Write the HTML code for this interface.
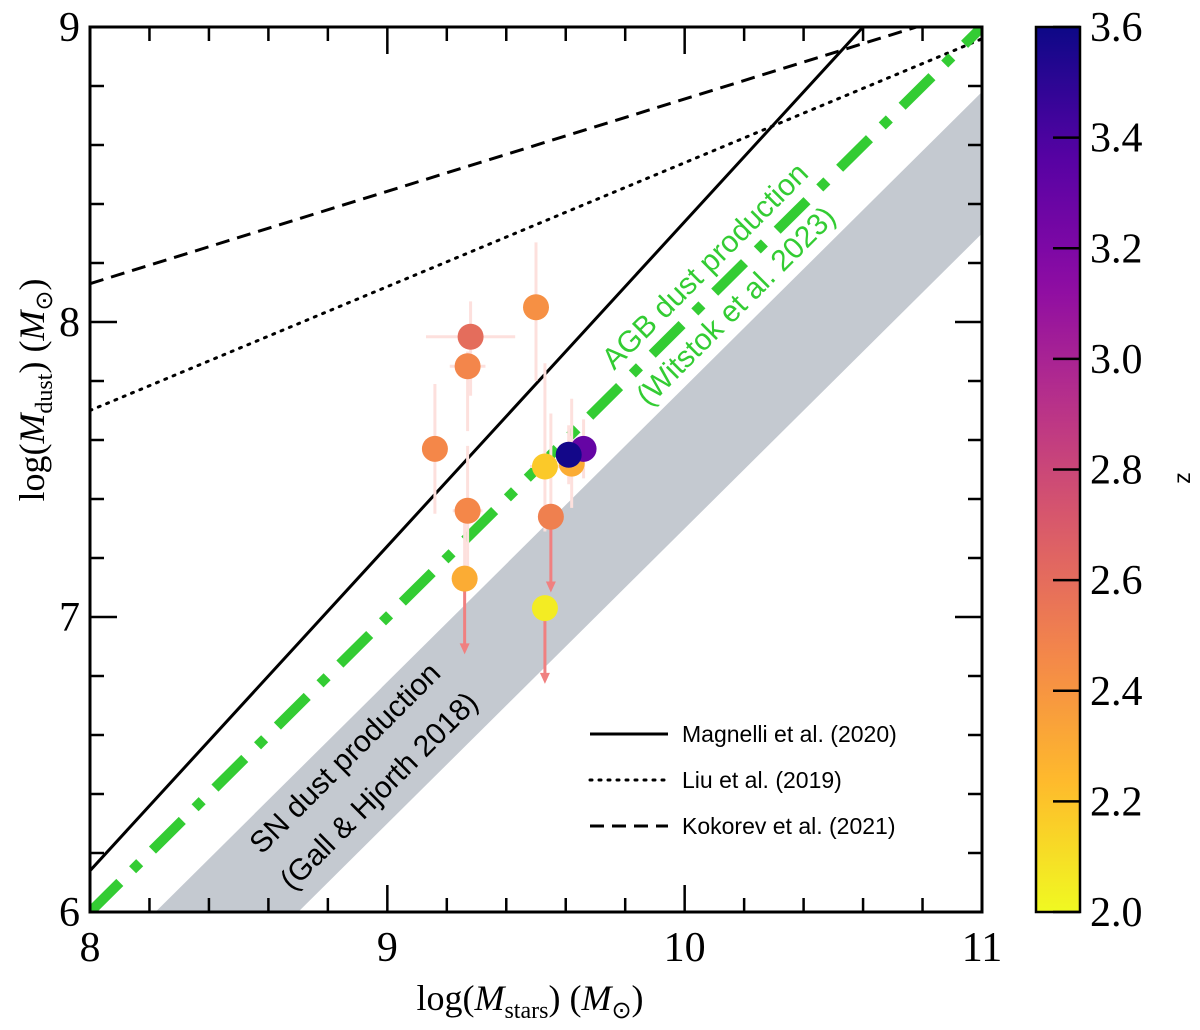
<!DOCTYPE html>
<html><head><meta charset="utf-8">
<style>
body{margin:0;background:#fff;}
svg{display:block;}
.tk{font-family:"Liberation Serif",serif;font-size:42px;fill:#000;}
.ax{font-family:"Liberation Serif",serif;font-size:36px;fill:#000;}
.lg{font-family:"Liberation Sans",sans-serif;font-size:23px;fill:#000;}
</style></head>
<body>
<svg id="chart" width="1200" height="1030" viewBox="0 0 1200 1030"></svg>
<script>
const xs = [9.50, 9.28, 9.27, 9.16, 9.27, 9.26, 9.53, 9.62, 9.66, 9.61, 9.55, 9.53];
const ys = [8.05, 7.95, 7.85, 7.57, 7.36, 7.13, 7.51, 7.52, 7.57, 7.55, 7.34, 7.03];
const zs = [2.42, 2.60, 2.47, 2.46, 2.46, 2.30, 2.18, 2.30, 3.30, 3.58, 2.50, 2.05];
const yErrLo = [0.25, 0.2, 0.22, 0.22, 0.22, 0, 0.22, 0.15, 0.1, 0.1, 0, 0];
const yErrHi = [0.22, 0.12, 0.05, 0.22, 0.22, 0.22, 0.35, 0.22, 0.1, 0.1, 0.35, 0];
const xErr = [0, 0.15, 0.06, 0, 0.05, 0, 0.05, 0.03, 0.04, 0, 0, 0.03];
const upperLimit = [0, 0, 0, 0, 0, 1, 0, 0, 0, 0, 1, 1];
const limitLen = [0, 0, 0, 0, 0, 0.25, 0, 0, 0, 0, 0.25, 0.25];
const xTicks = [8, 9, 10, 11];
const yTicks = [6, 7, 8, 9];
const cbTicks = [2.0, 2.2, 2.4, 2.6, 2.8, 3.0, 3.2, 3.4, 3.6];
const lineNames = ["Magnelli et al. (2020)", "Liu et al. (2019)", "Kokorev et al. (2021)"];
const lineIntercepts = [6.14, 7.70, 8.13];
const lineSlopes = [1.1, 0.42, 0.313];

const X0=90,X1=982,Y0=912,Y1=27;
const sx=v=>X0+(v-8)/3*(X1-X0);
const sy=v=>Y0-(v-6)/3*(Y0-Y1);
const svg=document.getElementById('chart');
const NS='http://www.w3.org/2000/svg';
function mk(t,a,p){const e=document.createElementNS(NS,t);for(const k in a)e.setAttribute(k,a[k]);(p||svg).appendChild(e);return e;}
const plasma=[[13,8,135],[84,2,163],[139,10,165],[185,50,137],[219,92,104],[244,136,73],[254,188,43],[240,249,33]];
function cmap(z){let t=(3.6-z)/1.6;t=Math.max(0,Math.min(1,t))*(plasma.length-1);const i=Math.min(Math.floor(t),plasma.length-2),f=t-i;const c=plasma[i].map((v,k)=>Math.round(v+(plasma[i+1][k]-v)*f));return `rgb(${c})`;}

const defs=mk('defs',{});
const cp=mk('clipPath',{id:'cp'},defs);mk('rect',{x:X0,y:Y1,width:X1-X0,height:Y0-Y1},cp);
const g=mk('g',{'clip-path':'url(#cp)'});
const band=mk('polygon',{points:[[sx(8.22),sy(6)],[sx(11),sy(8.78)],[sx(11),sy(8.3)],[sx(8.7),sy(6)]].join(' '),fill:'#c4c9d0'},g);

const dashes=['none','2,7','14,8'];
lineNames.forEach((n,i)=>{const l=mk('line',{x1:sx(8),y1:sy(lineIntercepts[i]),x2:sx(11),y2:sy(lineIntercepts[i]+3*lineSlopes[i]),stroke:'#000','stroke-width':3,'stroke-dasharray':dashes[i],'stroke-linecap':i==1?'round':'butt'},g);
});
const agb=mk('line',{x1:sx(8),y1:sy(6),x2:sx(11),y2:sy(9),stroke:'#33cc33','stroke-width':10,'stroke-dasharray':'42,18,10,18'},g);

xs.forEach((x,i)=>{const c='#fde0dd';
 if(yErrLo[i]||yErrHi[i])mk('line',{x1:sx(x),x2:sx(x),y1:sy(ys[i]-yErrLo[i]),y2:sy(ys[i]+yErrHi[i]),stroke:c,'stroke-width':3},g);
 if(xErr[i])mk('line',{x1:sx(x-xErr[i]),x2:sx(x+xErr[i]),y1:sy(ys[i]),y2:sy(ys[i]),stroke:c,'stroke-width':3},g);
 if(upperLimit[i]){const ye=sy(ys[i]-limitLen[i]);mk('line',{x1:sx(x),x2:sx(x),y1:sy(ys[i]),y2:ye-4,stroke:'#f08080','stroke-width':3},g);
  mk('polygon',{points:`${sx(x)-5},${ye-9} ${sx(x)+5},${ye-9} ${sx(x)},${ye+2}`,fill:'#f08080'},g);}
});
xs.forEach((x,i)=>{const p=mk('circle',{cx:sx(x),cy:sy(ys[i]),r:13,fill:cmap(zs[i])},g);
});
function rt(x,y,txt,col,name){const t=mk('text',{x:x,y:y,transform:`rotate(-45 ${x} ${y})`,'text-anchor':'middle',fill:col,'font-family':'Liberation Sans, sans-serif','font-size':30},g);t.textContent=txt;
}
rt(712,273,'AGB dust production','#33cc33','agb-label');
rt(743,313,'(Witstok et al. 2023)','#33cc33','agb-ref');
rt(352,765,'SN dust production','#000','sn-label');
rt(386,798,'(Gall & Hjorth 2018)','#000','sn-ref');
mk('rect',{x:X0,y:Y1,width:X1-X0,height:Y0-Y1,fill:'none',stroke:'#000','stroke-width':3});
for(let v=8;v<=11.001;v+=0.2){const p=sx(v),maj=Math.abs(v-Math.round(v))<1e-6,L=maj?27:14;
 mk('line',{x1:p,x2:p,y1:Y0,y2:Y0-L,stroke:'#000','stroke-width':2.5});mk('line',{x1:p,x2:p,y1:Y1,y2:Y1+L,stroke:'#000','stroke-width':2.5});}
for(let v=6;v<=9.001;v+=0.2){const p=sy(v),maj=Math.abs(v-Math.round(v))<1e-6,L=maj?27:14;
 mk('line',{y1:p,y2:p,x1:X0,x2:X0+L,stroke:'#000','stroke-width':2.5});mk('line',{y1:p,y2:p,x1:X1,x2:X1-L,stroke:'#000','stroke-width':2.5});}
xTicks.forEach(v=>{const t=mk('text',{x:sx(v),y:961,'text-anchor':'middle',class:'tk'});t.textContent=v;});
yTicks.forEach(v=>{const t=mk('text',{x:80,y:sy(v)+14,'text-anchor':'end',class:'tk'});t.textContent=v;});
const xl=mk('text',{x:530,y:1010,'text-anchor':'middle',class:'ax'});xl.innerHTML='log(<tspan font-style="italic">M</tspan><tspan font-size="24" dy="8">stars</tspan><tspan dy="-8">) (</tspan><tspan font-style="italic">M</tspan><tspan font-size="24" dy="8">⊙</tspan><tspan dy="-8">)</tspan>';

const yl=mk('text',{x:44,y:390,'text-anchor':'middle',class:'ax',transform:'rotate(-90 44 390)'});yl.innerHTML='log(<tspan font-style="italic">M</tspan><tspan font-size="24" dy="8">dust</tspan><tspan dy="-8">) (</tspan><tspan font-style="italic">M</tspan><tspan font-size="24" dy="8">⊙</tspan><tspan dy="-8">)</tspan>';

lineNames.forEach((n,i)=>{const y=734+i*46;const gg=mk('g',{});
 mk('line',{x1:590,x2:668,y1:y,y2:y,stroke:'#000','stroke-width':3,'stroke-dasharray':dashes[i],'stroke-linecap':i==1?'round':'butt'},gg);
 const t=mk('text',{x:682,y:y+8,class:'lg'},gg);t.textContent=n;});
const lg=mk('linearGradient',{id:'cb',x1:0,y1:1,x2:0,y2:0},defs);
for(let k=0;k<=20;k++){const z=2+1.6*k/20;mk('stop',{offset:k/20,'stop-color':cmap(z)},lg);}
const cb=mk('rect',{x:1036,y:Y1,width:44,height:Y0-Y1,fill:'url(#cb)',stroke:'#000','stroke-width':2.5});

cbTicks.forEach(v=>{const p=Y0-(v-2)/1.6*(Y0-Y1);mk('line',{x1:1080,x2:1053,y1:p,y2:p,stroke:'#000','stroke-width':2.5});
 const t=mk('text',{x:1090,y:p+14,class:'tk'});t.textContent=v.toFixed(1);});
const zl=mk('text',{x:1190,y:478,class:'lg','font-size':28,transform:'rotate(-90 1190 478)','text-anchor':'middle'});zl.textContent='z';

</script>
</body></html>
